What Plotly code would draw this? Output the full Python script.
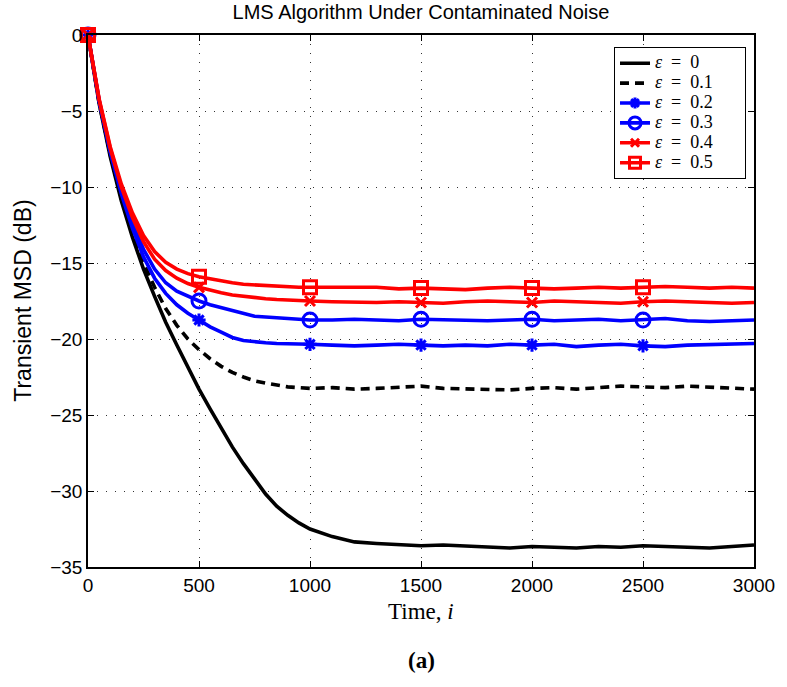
import plotly.graph_objects as go

# Time index samples
time_i = [0, 50, 100, 150, 200, 250, 300, 350, 400, 450, 500, 550, 600, 650, 700, 750, 800, 850, 900, 950, 1000,
          1100, 1200, 1300, 1400, 1500, 1600, 1700, 1800, 1900, 2000, 2100, 2200, 2300, 2400, 2500, 2600, 2700,
          2800, 2900, 3000]

msd_eps_0 = [0, -4.5, -8.0, -10.9, -13.3, -15.4, -17.2, -18.9, -20.4, -21.9, -23.3, -24.6, -25.9, -27.1, -28.2,
             -29.2, -30.2, -31.0, -31.6, -32.1, -32.5,
             -33.0, -33.35, -33.45, -33.55, -33.6, -33.55, -33.6, -33.7, -33.75, -33.65, -33.7, -33.75, -33.65,
             -33.7, -33.6, -33.65, -33.7, -33.75, -33.65, -33.55]
msd_eps_01 = [0, -4.45, -7.85, -10.7, -13.0, -15.0, -16.6, -18.0, -19.1, -20.0, -20.7, -21.3, -21.8, -22.2, -22.5,
              -22.75, -22.9, -23.05, -23.15, -23.2, -23.25,
              -23.2, -23.3, -23.25, -23.2, -23.1, -23.25, -23.3, -23.3, -23.35, -23.25, -23.2, -23.3, -23.2,
              -23.1, -23.15, -23.2, -23.1, -23.15, -23.2, -23.3]
msd_eps_02 = [0, -4.35, -7.7, -10.45, -12.7, -14.6, -16.0, -17.0, -17.75, -18.3, -18.75, -19.2, -19.55, -19.9,
              -20.1, -20.2, -20.25, -20.3, -20.3, -20.35, -20.35,
              -20.4, -20.45, -20.4, -20.35, -20.4, -20.45, -20.4, -20.45, -20.35, -20.4, -20.35, -20.5, -20.4,
              -20.35, -20.45, -20.5, -20.4, -20.35, -20.3, -20.3]
msd_eps_03 = [0, -4.3, -7.6, -10.25, -12.4, -14.1, -15.4, -16.3, -16.85, -17.2, -17.5, -17.75, -17.95, -18.15,
              -18.35, -18.5, -18.55, -18.6, -18.7, -18.75, -18.75,
              -18.75, -18.7, -18.75, -18.8, -18.7, -18.75, -18.8, -18.8, -18.75, -18.7, -18.8, -18.75, -18.7,
              -18.8, -18.75, -18.65, -18.8, -18.85, -18.8, -18.75]
msd_eps_04 = [0, -4.25, -7.45, -10.0, -12.0, -13.6, -14.75, -15.5, -16.0, -16.35, -16.6, -16.8, -16.95, -17.1,
              -17.2, -17.3, -17.35, -17.4, -17.45, -17.5, -17.5,
              -17.55, -17.6, -17.6, -17.55, -17.6, -17.65, -17.55, -17.5, -17.55, -17.6, -17.5, -17.55, -17.6,
              -17.65, -17.55, -17.5, -17.55, -17.6, -17.65, -17.6]
msd_eps_05 = [0, -4.2, -7.35, -9.8, -11.7, -13.2, -14.25, -14.95, -15.4, -15.7, -15.9, -16.05, -16.2, -16.3,
              -16.4, -16.45, -16.5, -16.55, -16.55, -16.6, -16.6,
              -16.6, -16.65, -16.6, -16.7, -16.65, -16.7, -16.75, -16.65, -16.6, -16.65, -16.7, -16.65, -16.6,
              -16.65, -16.6, -16.55, -16.6, -16.65, -16.6, -16.65]

legend_labels = ["0", "0.1", "0.2", "0.3", "0.4", "0.5"]
marker_times = [0, 500, 1000, 1500, 2000, 2500]

x_ticks = [0, 500, 1000, 1500, 2000, 2500, 3000]
y_ticks = [-35, -30, -25, -20, -15, -10, -5, 0]

series = [
    dict(y=msd_eps_0, color="black", dash="solid", symbol=None, msize=0),
    dict(y=msd_eps_01, color="black", dash="9px,6px", symbol=None, msize=0),
    dict(y=msd_eps_02, color="#0000FF", dash="solid", symbol="asterisk-open", msize=11),
    dict(y=msd_eps_03, color="#0000FF", dash="solid", symbol="circle-open", msize=14),
    dict(y=msd_eps_04, color="#FF0000", dash="solid", symbol="x-thin-open", msize=10),
    dict(y=msd_eps_05, color="#FF0000", dash="solid", symbol="square-open", msize=13),
]

NB = "\u00a0"
fig = go.Figure()
LW = 3.6
for s, lab in zip(series, legend_labels):
    fig.add_trace(go.Scatter(x=time_i, y=s["y"], mode="lines",
                             line=dict(color=s["color"], width=LW, dash=s["dash"]),
                             showlegend=False, hoverinfo="skip"))
    if s["symbol"]:
        mx = [t for t in time_i if t in marker_times]
        my = [v for t, v in zip(time_i, s["y"]) if t in marker_times]
        fig.add_trace(go.Scatter(x=mx, y=my, mode="markers", cliponaxis=False,
                                 marker=dict(symbol=s["symbol"], size=s["msize"], color=s["color"],
                                             line=dict(color=s["color"], width=3)),
                                 showlegend=False, hoverinfo="skip"))
    label_txt = "<i>ε</i>" + NB * 2 + "=" + NB * 2 + lab
    label_txt = label_txt + NB * (3 if len(lab) > 1 else 6) + NB * 3
    name = '<span style="font-size:18px">' + label_txt + '</span>'
    mode = "lines+markers" if s["symbol"] else "lines"
    fig.add_trace(go.Scatter(x=[None], y=[None], mode=mode, name=name,
                             line=dict(color=s["color"], width=LW, dash=s["dash"]),
                             marker=dict(symbol=s["symbol"] or "circle", size=max(s["msize"] - 2, 1),
                                         color=s["color"], line=dict(color=s["color"], width=3))))

axis_common = dict(showline=True, linecolor="black", linewidth=1.5, mirror="allticks",
                   ticks="inside", ticklen=6, tickcolor="black", tickwidth=1,
                   showgrid=True, gridcolor="#333", gridwidth=1, griddash="1px,8px",
                   zeroline=False,
                   tickfont=dict(family="Liberation Sans, Arial", size=19, color="black"))

fig.update_xaxes(range=[0, 3000], tickvals=x_ticks, **axis_common)
fig.update_yaxes(range=[-35, 0], tickvals=y_ticks, **axis_common)

fig.update_layout(
    width=787, height=687,
    margin=dict(l=88, r=28, t=35, b=120),
    plot_bgcolor="white", paper_bgcolor="white",
    title=dict(text="LMS Algorithm Under Contaminated Noise", x=0.5, xref="paper",
               y=1 - 12 / 687, yanchor="middle",
               font=dict(family="Liberation Sans, Arial", size=20, color="black")),
    legend=dict(x=0.988, y=0.977, xanchor="right", yanchor="top",
                bgcolor="white", bordercolor="black", borderwidth=1,
                font=dict(family="Liberation Serif, Times New Roman", size=13, color="black"),
                tracegroupgap=0),
    annotations=[
        dict(text="Time, <i>i</i>", xref="paper", yref="paper", x=0.5, y=-0.083,
             xanchor="center", yanchor="middle", showarrow=False,
             font=dict(family="Liberation Serif, Times New Roman", size=23, color="black")),
        dict(text="<b>(a)</b>", xref="paper", yref="paper", x=0.5, y=-0.175,
             xanchor="center", yanchor="middle", showarrow=False,
             font=dict(family="Liberation Serif, Times New Roman", size=23, color="black")),
        dict(text="Transient MSD (dB)", xref="paper", yref="paper", x=-0.098, y=0.5,
             xanchor="center", yanchor="middle", textangle=-90, showarrow=False,
             font=dict(family="Liberation Sans, Arial", size=23, color="black")),
    ],
)

fig.write_html("out.html")
